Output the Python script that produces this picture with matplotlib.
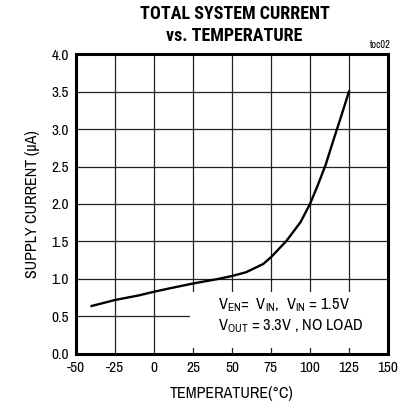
import matplotlib
matplotlib.use("Agg")
import matplotlib.pyplot as plt
from matplotlib.patches import Rectangle

plt.rcParams["font.family"] = ["Archivo Narrow", "DejaVu Sans"]
plt.rcParams["mathtext.fontset"] = "custom"
plt.rcParams["mathtext.rm"] = "Archivo Narrow"
plt.rcParams["mathtext.it"] = "Archivo Narrow"

# curve
temp_c = [-40, -25, -10, 0, 10, 25, 41, 50, 59, 63, 70, 75, 85, 94, 100, 105, 110, 115, 120, 125]
current_ua = [0.64, 0.72, 0.78, 0.83, 0.875, 0.94, 1.00, 1.04, 1.09, 1.13, 1.20, 1.29, 1.51, 1.76, 2.00, 2.25, 2.52, 2.85, 3.17, 3.50]

x_ticks = [-50, -25, 0, 25, 50, 75, 100, 125, 150]
y_ticks = [0.0, 0.5, 1.0, 1.5, 2.0, 2.5, 3.0, 3.5, 4.0]

fig = plt.figure(figsize=(4.01, 4.11), dpi=100)
ax = fig.add_axes([0.1895, 0.1387, 0.778, 0.7299])

ax.set_xlim(-50, 150); ax.set_ylim(0, 4)
ax.set_xticks(x_ticks); ax.set_yticks(y_ticks)
ax.set_xticklabels([str(t) for t in x_ticks], fontsize=11)
ax.set_yticklabels([f"{t:.1f}" for t in y_ticks], fontsize=11)
ax.tick_params(length=0, pad=5)
ax.grid(True, color="#222222", lw=0.9)
ax.set_axisbelow(True)
for s in ax.spines.values():
    s.set_linewidth(2.2)

# white box behind the condition text hides the grid
ax.add_patch(Rectangle((23, 0.08), 127, 0.75, facecolor="white", edgecolor="none", zorder=1.5))

ax.plot(temp_c, current_ua, color="black", lw=1.7, zorder=3)

ax.text(41, 0.60, r"V$_{\mathrm{EN}}$=  V$_{\mathrm{IN}}$,  V$_{\mathrm{IN}}$ = 1.5V", fontsize=11.8, zorder=4)
ax.text(41, 0.31, r"V$_{\mathrm{OUT}}$ = 3.3V , NO LOAD", fontsize=11.8, zorder=4)

ax.set_xlabel("TEMPERATURE(°C)", fontsize=11.5, labelpad=8)
ax.set_ylabel("SUPPLY CURRENT (µA)", fontsize=11.5, labelpad=8)

title_font = ["Roboto Condensed", "DejaVu Sans"]
fig.text(0.585, 0.965, "TOTAL SYSTEM CURRENT", ha="center", va="center", fontsize=13,
         fontweight="bold", family=title_font)
fig.text(0.585, 0.912, "vs. TEMPERATURE", ha="center", va="center", fontsize=13,
         fontweight="bold", family=title_font)
fig.text(0.975, 0.89, "toc02", ha="right", va="center", fontsize=7.5)

fig.savefig("out.png", dpi=100)
